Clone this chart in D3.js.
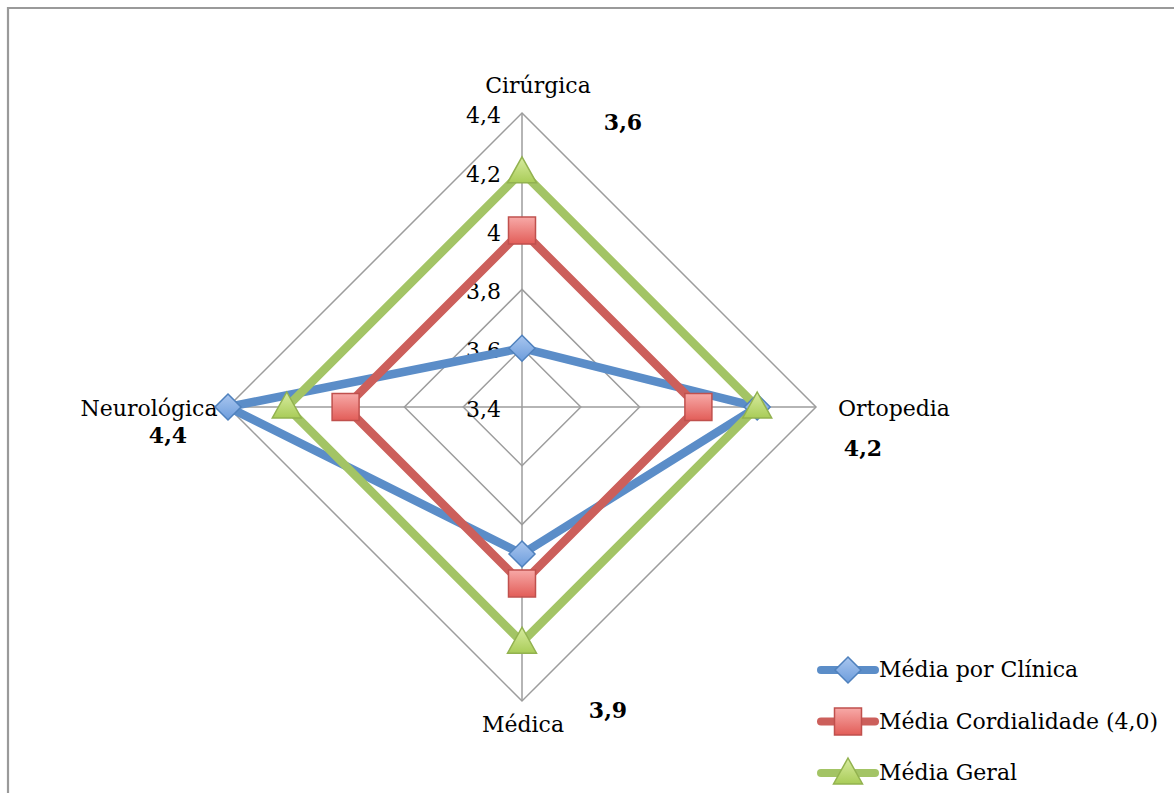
<!DOCTYPE html>
<html>
<head>
<meta charset="utf-8">
<script src="https://cdn.jsdelivr.net/npm/d3@7"></script>
<style>
  html, body { margin: 0; padding: 0; background: #fff; }
  svg { display: block; }
  text { font-family: "DejaVu Serif", "Liberation Serif", serif; fill: #000; }
</style>
</head>
<body>
<svg id="chart" width="1174" height="793"></svg>
<script>
// Clinics (radar axes, clockwise from the top)
const clinics = ["Cirúrgica", "Ortopedia", "Médica", "Neurológica"];

// Series values per clinic
const mediaPorClinica = [3.6, 4.2, 3.9, 4.4];
const mediaCordialidade = [4.0, 4.0, 4.0, 4.0];
const mediaGeral = [4.2, 4.2, 4.2, 4.2];

const seriesNames = ["Média por Clínica", "Média Cordialidade (4,0)", "Média Geral"];

// Radial scale ticks
const tickValues = [3.4, 3.6, 3.8, 4.0, 4.2, 4.4];
const tickLabels = ["3,4", "3,6", "3,8", "4", "4,2", "4,4"];

// Value labels shown next to each axis end (per-clinic average)
const valueLabels = ["3,6", "4,2", "3,9", "4,4"];

const svg = d3.select("#chart");
const cx = 522, cy = 407, R = 294;
const FS = 22;

const r = d3.scaleLinear().domain([3.4, 4.4]).range([0, R]);
const angle = d3.scalePoint().domain(clinics).range([0, 2 * Math.PI * 3 / 4]);
const pt = (c, v) => {
  const a = angle(c) - Math.PI / 2;
  return [cx + r(v) * Math.cos(a), cy + r(v) * Math.sin(a)];
};

// Outer frame
svg.append("path")
  .attr("d", "M8,800 L8,8 L1180,8")
  .attr("fill", "none").attr("stroke", "#9a9a9a").attr("stroke-width", 2.2);

// Gradients for markers
const defs = svg.append("defs");
function grad(id, c1, c2) {
  const g = defs.append("linearGradient").attr("id", id)
    .attr("x1", 0).attr("y1", 0).attr("x2", 0).attr("y2", 1);
  g.append("stop").attr("offset", "0%").attr("stop-color", c1);
  g.append("stop").attr("offset", "100%").attr("stop-color", c2);
}
grad("gBlue", "#a9c6ef", "#6d9ddc");
grad("gRed", "#f7a9a7", "#e25d58");
grad("gGreen", "#d8eca0", "#a9cc58");

const styles = [
  { line: "#5b8dc8", stroke: "#4f81bd", fill: "url(#gBlue)", shape: "diamond" },
  { line: "#cc5f5b", stroke: "#c0504d", fill: "url(#gRed)", shape: "square" },
  { line: "#a3c465", stroke: "#92b24f", fill: "url(#gGreen)", shape: "triangle" }
];
const seriesData = [mediaPorClinica, mediaCordialidade, mediaGeral];

// Grid rings
const grid = svg.append("g");
tickValues.slice(1).forEach(t => {
  grid.append("path")
    .attr("d", d3.line()(clinics.map(c => pt(c, t))) + "Z")
    .attr("fill", "none").attr("stroke", "#9d9d9d").attr("stroke-width", 1.5);
});
clinics.forEach(c => {
  const [x, y] = pt(c, 4.4);
  grid.append("line").attr("x1", cx).attr("y1", cy).attr("x2", x).attr("y2", y)
    .attr("stroke", "#9d9d9d").attr("stroke-width", 1.5);
});

// Tick labels along the top axis
svg.append("g").selectAll("text").data(tickValues).join("text")
  .attr("x", cx - 21)
  .attr("y", d => cy - r(d) + 4)
  .attr("text-anchor", "end")
  .attr("dominant-baseline", "middle")
  .attr("font-size", FS)
  .text((d, i) => tickLabels[i]);

// Axis names
const nameAttrs = {
  "Cirúrgica": { dx: 16, dy: -26, anchor: "middle" },
  "Ortopedia": { dx: 22, dy: 3, anchor: "start" },
  "Médica": { dx: 1, dy: 25, anchor: "middle" },
  "Neurológica": { dx: -79, dy: 3, anchor: "middle" }
};
svg.append("g").selectAll("text").data(clinics).join("text")
  .attr("x", c => pt(c, 4.4)[0] + nameAttrs[c].dx)
  .attr("y", c => pt(c, 4.4)[1] + nameAttrs[c].dy)
  .attr("text-anchor", c => nameAttrs[c].anchor)
  .attr("dominant-baseline", "middle")
  .attr("font-size", FS)
  .text(c => c);

// Series lines
const line = d3.line().x(d => d[0]).y(d => d[1]).curve(d3.curveLinearClosed);
seriesData.forEach((vals, i) => {
  svg.append("path")
    .attr("d", line(clinics.map((c, j) => pt(c, vals[j]))))
    .attr("fill", "none")
    .attr("stroke", styles[i].line)
    .attr("stroke-width", 8.5)
    .attr("stroke-linejoin", "miter");
});

// Marker shapes
function marker(g, shape, x, y, st) {
  let d;
  if (shape === "diamond") d = `M${x},${y - 13} L${x + 13},${y} L${x},${y + 13} L${x - 13},${y} Z`;
  else if (shape === "square") d = `M${x - 13.5},${y - 13.5} h27 v27 h-27 Z`;
  else d = `M${x},${y - 15} L${x + 14.5},${y + 11} L${x - 14.5},${y + 11} Z`;
  g.append("path").attr("d", d)
    .attr("fill", st.fill).attr("stroke", st.stroke).attr("stroke-width", 1.5);
}
seriesData.forEach((vals, i) => {
  const g = svg.append("g");
  clinics.forEach((c, j) => {
    const [x, y] = pt(c, vals[j]);
    marker(g, styles[i].shape, x, y, styles[i]);
  });
});

// Per-clinic value labels
const valuePos = {
  "Cirúrgica": { dx: 101, dy: 11 },
  "Ortopedia": { dx: 47, dy: 43 },
  "Médica": { dx: 86, dy: 11 },
  "Neurológica": { dx: -60, dy: 30 }
};
svg.append("g").selectAll("text").data(clinics).join("text")
  .attr("x", c => pt(c, 4.4)[0] + valuePos[c].dx)
  .attr("y", c => pt(c, 4.4)[1] + valuePos[c].dy)
  .attr("text-anchor", "middle")
  .attr("dominant-baseline", "middle")
  .attr("font-size", FS)
  .attr("font-weight", "bold")
  .text((c, i) => valueLabels[i]);

// Legend
const legend = svg.append("g");
seriesNames.forEach((name, i) => {
  const y = 670 + i * 51.5;
  legend.append("line").attr("x1", 821).attr("x2", 875).attr("y1", y).attr("y2", y)
    .attr("stroke", styles[i].line).attr("stroke-width", 8).attr("stroke-linecap", "round");
  marker(legend, styles[i].shape, 848, y, styles[i]);
  legend.append("text").attr("x", 879).attr("y", y + 1)
    .attr("dominant-baseline", "middle").attr("font-size", FS).text(name);
});
</script>
</body>
</html>
